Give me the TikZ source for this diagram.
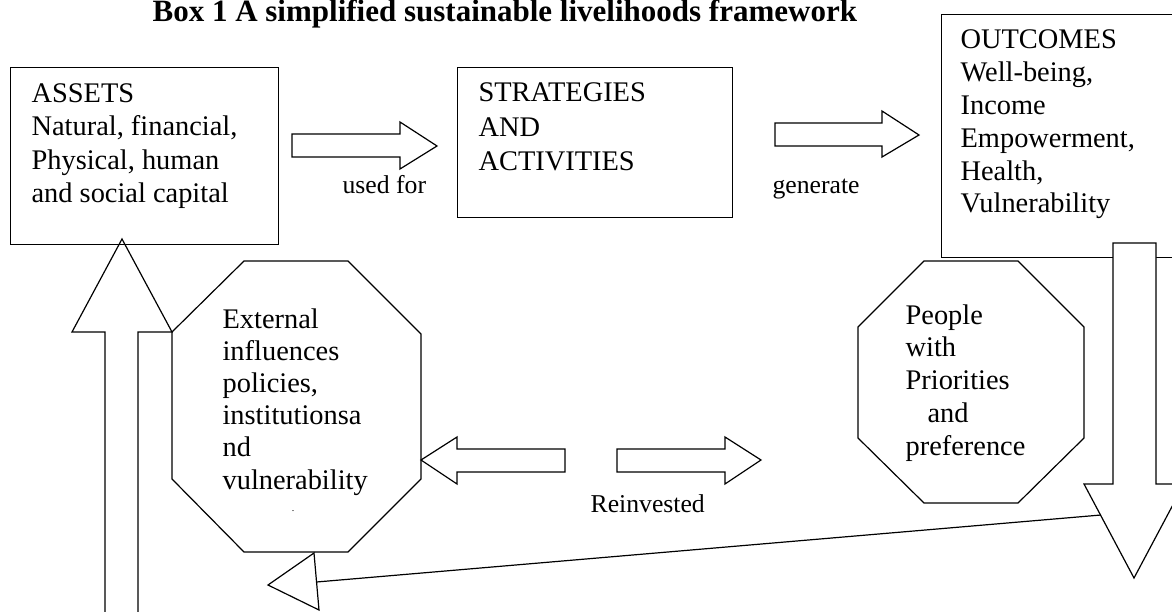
\documentclass[tikz,border=0pt]{standalone}
\usepackage{fontspec}
\setmainfont{Liberation Serif}
\begin{document}
\begin{tikzpicture}[x=1pt,y=-1pt, line width=1.2pt, line join=miter,
  box/.style={draw, line width=1.2pt, inner sep=0pt, anchor=north west},
  txt/.style={anchor=base west, inner sep=0pt, align=left},
  lbl/.style={anchor=base west, inner sep=0pt, font=\fontsize{25.7}{30}\selectfont},
  blockarrow/.style={draw, fill=white, line width=1.2pt},
  octa/.style={draw, line width=1.2pt}]
\useasboundingbox (0,0) rectangle (1172,612);
\begin{scope}
\clip (0,0) rectangle (1172,612);
% title
\node[anchor=base west, inner sep=0pt, font=\fontsize{31}{36}\selectfont\bfseries] (title) at (152,22) {Box 1 A simplified sustainable livelihoods framework};
% boxes
\node[box, minimum width=268pt, minimum height=177pt] (assets) at (10,67) {};
\node[box, minimum width=275pt, minimum height=150pt] (strat) at (457,67) {};
\node[box, minimum width=250pt, minimum height=243pt] (outc) at (941,14) {};
% box texts (anchored at the baseline of the last line)
\node[txt, font=\fontsize{28.4}{33.6}\selectfont] (assetsT) at (31,203) {ASSETS\\Natural, financial,\\Physical, human\\and social capital};
\node[txt, font=\fontsize{28.4}{34.5}\selectfont] (stratT) at (478,171) {STRATEGIES\\AND\\ACTIVITIES};
\node[txt, font=\fontsize{28.4}{32.8}\selectfont] (outT) at (960,213) {OUTCOMES\\Well-being,\\Income\\Empowerment,\\Health,\\Vulnerability};
% octagons
\coordinate (ext) at (296.5,406.5);
\draw[octa] (172,332) -- (244,261) -- (348,261) -- (421,334) -- (421,479) -- (348,552) -- (244,552) -- (172,479) -- cycle;
\coordinate (ppl) at (971,382);
\draw[octa] (858,327) -- (924,261) -- (1018,261) -- (1084,327) -- (1084,438) -- (1018,503) -- (924,503) -- (858,438) -- cycle;
\node[txt, font=\fontsize{28.4}{32.2}\selectfont] (extT) at (222,489) {External\\influences\\policies,\\institutionsa\\nd\\vulnerability};
\node[anchor=base, inner sep=0pt, font=\fontsize{10}{10}\selectfont] (dot) at (293,511) {.};
\node[txt, font=\fontsize{28.4}{32.75}\selectfont] (pplT) at (905,455) {People\\with\\Priorities\\\hspace*{22pt}and\\preference};
% block arrows
\draw[blockarrow] (292,134) -- (400,134) -- (400,122) -- (437,146) -- (400,169) -- (400,157) -- (292,157) -- cycle;
\node[lbl] (usedfor) at (342,194) {used for};
\draw[blockarrow] (775,123) -- (882,123) -- (882,111) -- (919,135) -- (882,157) -- (882,146) -- (775,146) -- cycle;
\node[lbl] (generate) at (772,194) {generate};
\draw[blockarrow] (565,449) -- (457,449) -- (457,437) -- (421,460) -- (457,484) -- (457,472) -- (565,472) -- cycle;
\draw[blockarrow] (617,449) -- (725,449) -- (725,437) -- (761,460) -- (725,484) -- (725,472) -- (617,472) -- cycle;
\node[lbl] (reinv) at (590,512) {Reinvested};
% up arrow
\draw (105,630) -- (105,332) -- (72,332) -- (122,239) -- (172,332) -- (138,332) -- (138,630);
% down arrow
\draw[blockarrow] (1113,243) -- (1156,243) -- (1156,484) -- (1184,484) -- (1134,578) -- (1084,484) -- (1113,484) -- cycle;
% return line with triangle
\coordinate (retS) at (1101,515);
\coordinate (retE) at (316.5,582);
\draw (retS) -- (retE);
\draw (314,553) -- (268,585) -- (319,610) -- cycle;
\end{scope}
\end{tikzpicture}
\end{document}
